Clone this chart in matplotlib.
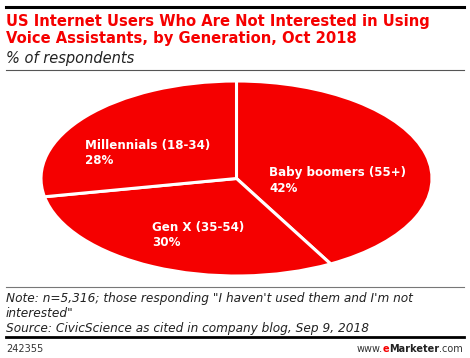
import matplotlib
matplotlib.use("Agg")
import matplotlib.pyplot as plt
from matplotlib.lines import Line2D

# dados
labels = ["Baby boomers (55+)", "Gen X (35-54)", "Millennials (18-34)"]
shares = [42, 30, 28]

title = "US Internet Users Who Are Not Interested in Using\nVoice Assistants, by Generation, Oct 2018"
subtitle = "% of respondents"
note = ("Note: n=5,316; those responding \"I haven't used them and I'm not\n"
        "interested\"\n"
        "Source: CivicScience as cited in company blog, Sep 9, 2018")
chart_id = "242355"

RED = "#f50000"
W, H = 470, 358

fig = plt.figure(figsize=(W / 100, H / 100), dpi=100)
fig.patch.set_facecolor("white")


def fx(px):
    return px / W


def fy(py):
    return 1 - py / H


# pizza esticada em elipse
ax = fig.add_axes([fx(41), fy(276), fx(432) - fx(41), fy(81) - fy(276)])
wedges, _ = ax.pie(shares, colors=[RED] * len(shares), startangle=90,
                   counterclock=False,
                   wedgeprops=dict(edgecolor="white", linewidth=2.2))
ax.set_aspect("auto")
ax.set_xlim(-1, 1)
ax.set_ylim(-1, 1)
ax.axis("off")

# rótulos (primeira linha na altura indicada)
lab_pos = {"Baby boomers (55+)": (269, 172), "Gen X (35-54)": (152, 227),
           "Millennials (18-34)": (85, 145)}
for lab, v in zip(labels, shares):
    x, y = lab_pos[lab]
    fig.text(fx(x), fy(y), lab, color="white", fontsize=8.6,
             fontweight="bold", ha="left", va="center")
    fig.text(fx(x), fy(y + 16), f"{v}%", color="white", fontsize=8.6,
             fontweight="bold", ha="left", va="center")

# linhas
fig.add_artist(Line2D([fx(6), fx(464)], [fy(7), fy(7)], color="black", lw=2.2))
fig.add_artist(Line2D([fx(6), fx(464)], [fy(70), fy(70)], color="#555555", lw=0.8))
fig.add_artist(Line2D([fx(6), fx(464)], [fy(287), fy(287)], color="#777777", lw=0.8))
fig.add_artist(Line2D([fx(6), fx(464)], [fy(337), fy(337)], color="black", lw=2.0))

# textos
fig.text(fx(6), fy(43), title, color=RED, fontsize=10.6, fontweight="bold",
         ha="left", va="baseline", linespacing=1.2)
fig.text(fx(6), fy(63), subtitle, color="#222222", fontsize=10.5, style="italic",
         ha="left", va="baseline")
fig.text(fx(6), fy(332), note, color="#222222", fontsize=8.7, style="italic",
         ha="left", va="baseline", linespacing=1.18)
fig.text(fx(6), fy(352), chart_id, color="#333333", fontsize=7, ha="left",
         va="baseline")

# www.eMarketer.com
r = fig.canvas.get_renderer()
xr = fx(463)
parts = [(".com", "#333333", "normal"), ("Marketer", "#222222", "bold"),
         ("e", RED, "bold"), ("www.", "#333333", "normal")]
for txt, c, w in parts:
    t = fig.text(xr, fy(352), txt, color=c, fontsize=7, fontweight=w,
                 ha="right", va="baseline")
    bb = t.get_window_extent(renderer=r)
    xr -= bb.width / W

fig.savefig("out.png", dpi=100)
